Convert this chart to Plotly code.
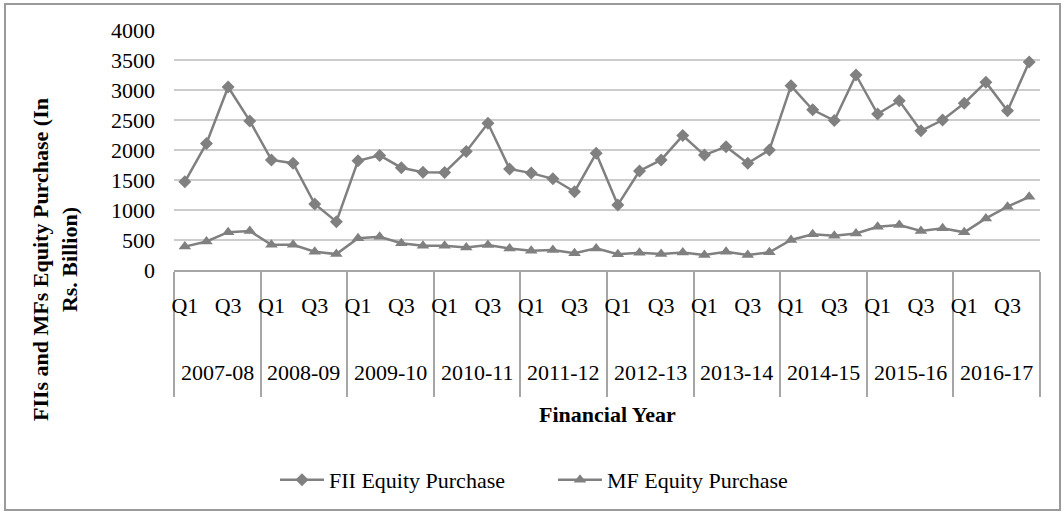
import plotly.graph_objects as go

years = ["2007-08", "2008-09", "2009-10", "2010-11", "2011-12",
         "2012-13", "2013-14", "2014-15", "2015-16", "2016-17"]
quarters = ["Q1", "Q2", "Q3", "Q4"]

fii = [1470, 2110, 3050, 2485,
       1835, 1780, 1100, 805,
       1820, 1910, 1705, 1630,
       1625, 1975, 2445, 1685,
       1615, 1520, 1305, 1945,
       1085, 1650, 1835, 2240,
       1915, 2055, 1780, 2000,
       3070, 2670, 2490, 3250,
       2600, 2820, 2320, 2500,
       2780, 3130, 2655, 3465]

mf = [390, 475, 630, 650,
      420, 420, 305, 265,
      530, 555, 445, 405,
      405, 375, 415, 360,
      320, 335, 280, 360,
      262, 288, 268, 290,
      250, 305, 250, 295,
      500, 595, 572, 610,
      720, 750, 650, 695,
      628, 860, 1055, 1220]

y_ticks = [0, 500, 1000, 1500, 2000, 2500, 3000, 3500, 4000]

n = len(years) * len(quarters)
xs = list(range(n))
q_labels = [quarters[i % 4] for i in range(n)]

GRAY = "#808080"
FONT = "Liberation Serif"
FS = 22

fig = go.Figure()
fig.add_trace(go.Scatter(x=xs, y=fii, name="FII Equity Purchase", mode="lines+markers",
                         line=dict(color=GRAY, width=2.5),
                         marker=dict(symbol="diamond", size=10, color=GRAY)))
fig.add_trace(go.Scatter(x=xs, y=mf, name="MF Equity Purchase", mode="lines+markers",
                         line=dict(color=GRAY, width=2.5),
                         marker=dict(symbol="triangle-up", size=11, color=GRAY)))

W, H = 1064, 513
ml, mr, mt, mb = 174, 24, 30, 243
pw, ph = W - ml - mr, H - mt - mb

def px_x(p):
    return (p - ml) / pw

def px_y(p):
    return (H - mb - p) / ph

tick_idx = [i for i in xs if q_labels[i] in ("Q1", "Q3")]

fig.update_layout(
    width=W, height=H,
    margin=dict(l=ml, r=mr, t=mt, b=mb),
    paper_bgcolor="white", plot_bgcolor="white",
    font=dict(family=FONT, size=FS, color="black"),
    showlegend=True,
    legend=dict(orientation="h", x=px_x(275), xanchor="left", y=px_y(480), yanchor="middle",
                font=dict(family=FONT, size=FS, color="black"), itemwidth=44,
                entrywidth=219, entrywidthmode="pixels"),
    xaxis=dict(range=[-0.5, n - 0.5], tickmode="array", tickvals=tick_idx,
               ticktext=[q_labels[i] for i in tick_idx], ticks="", showgrid=False,
               showline=True, linecolor="#a6a6a6", linewidth=1.5, zeroline=False,
               ticklabelstandoff=15,
               minor=dict(tickmode="array", tickvals=[k * 4 - 0.5 for k in range(len(years) + 1)],
                          ticks="outside", ticklen=125, tickcolor="#a6a6a6", tickwidth=1.5,
                          showgrid=False)),
    yaxis=dict(range=[0, 4000], tickmode="array", tickvals=y_ticks, showgrid=True,
               gridcolor="#cccccc", gridwidth=1.5, zeroline=False, showline=False,
               ticks="", ticklabelstandoff=18),
)

for k, yr in enumerate(years):
    fig.add_annotation(x=k * 4 + 1.5, xref="x", y=px_y(372), yref="paper", text=yr,
                       showarrow=False, font=dict(family=FONT, size=FS, color="black"),
                       xanchor="center", yanchor="middle")

fig.add_annotation(x=0.5, xref="paper", y=px_y(415), yref="paper", text="<b>Financial Year</b>",
                   showarrow=False, font=dict(family=FONT, size=FS, color="black"),
                   xanchor="center", yanchor="middle")

fig.add_annotation(x=px_x(55), xref="paper", y=px_y(260), yref="paper",
                   text="<b>FIIs and MFs Equity Purchase (In<br>Rs. Billion)</b>",
                   showarrow=False, textangle=-90, font=dict(family=FONT, size=FS, color="black"),
                   xanchor="center", yanchor="middle")

fig.add_shape(type="rect", xref="paper", yref="paper",
              x0=px_x(5), x1=px_x(1060), y0=px_y(510), y1=px_y(4),
              line=dict(color="#9a9a9a", width=2), fillcolor="rgba(0,0,0,0)", layer="below")

fig.write_html("out.html", config={"displayModeBar": False},
               post_script="document.body.style.margin='0px';")
